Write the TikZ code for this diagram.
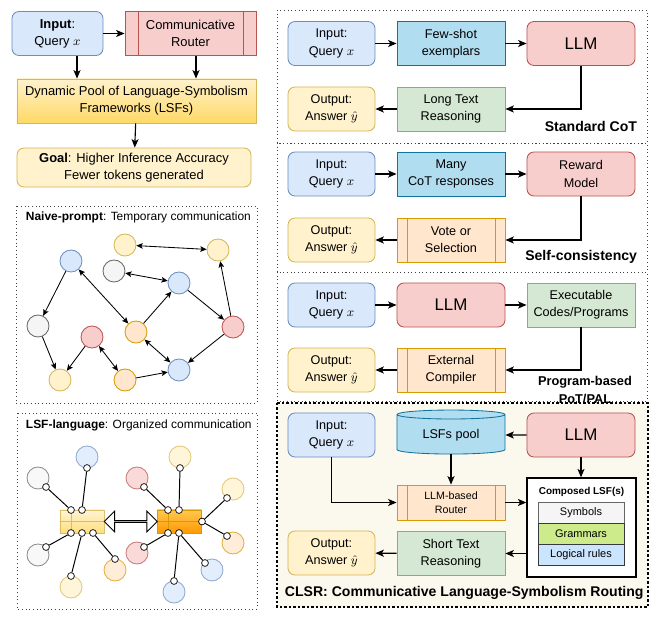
\documentclass[tikz,border=0pt]{standalone}
\usepackage{fontspec}
\setmainfont{Liberation Sans}
\usetikzlibrary{arrows.meta,shapes.geometric,shapes.arrows,calc}

\definecolor{blueF}{HTML}{DAE8FC}\definecolor{blueD}{HTML}{6C8EBF}
\definecolor{yelF}{HTML}{FFF2CC}\definecolor{yelD}{HTML}{D6B656}
\definecolor{redF}{HTML}{F8CECC}\definecolor{redD}{HTML}{B85450}
\definecolor{orF}{HTML}{FFE6CC}\definecolor{orD}{HTML}{D79B00}
\definecolor{greyF}{HTML}{F5F5F5}\definecolor{greyD}{HTML}{666666}
\definecolor{grnF}{HTML}{D5E8D4}\definecolor{grnD}{HTML}{82B366}
\definecolor{cyanF}{HTML}{B1DDF0}\definecolor{cyanD}{HTML}{10739E}
\definecolor{limeF}{HTML}{CDEB8B}\definecolor{slateD}{HTML}{36393D}
\definecolor{skyF}{HTML}{CCE5FF}
\definecolor{goldF}{HTML}{FFD966}
\definecolor{creamF}{HTML}{FBF8EE}

\tikzset{
  txt/.style={font=\fontsize{9}{12.2}\selectfont, align=center},
  box/.style={txt, draw, line width=0.6pt, minimum height=1.1cm, inner sep=1pt},
  bars/.style 2 args={path picture={\draw[#2, line width=0.6pt]
      ([xshift=#1]path picture bounding box.north west) -- ([xshift=#1]path picture bounding box.south west)
      ([xshift=-#1]path picture bounding box.north east) -- ([xshift=-#1]path picture bounding box.south east);}},
  qbox/.style={box, rounded corners=5pt, fill=blueF, draw=blueD, minimum width=2.175cm},
  abox/.style={box, rounded corners=5pt, fill=yelF, draw=yelD, minimum width=2.175cm},
  llmbox/.style={box, rounded corners=5pt, fill=redF, draw=redD, minimum width=2.7cm},
  bigllm/.style={llmbox, font=\fontsize{12}{14}\selectfont},
  cyanbox/.style={box, fill=cyanF, draw=cyanD, minimum width=2.7cm},
  grnbox/.style={box, fill=grnF, draw=grnD, minimum width=2.7cm},
  procbox/.style={box, fill=orF, draw=orD, minimum width=2.7cm, bars={0.25cm}{orD}},
  layer/.style={draw=slateD, line width=0.6pt, minimum width=2.15cm, minimum height=0.525cm,
    inner sep=0pt, font=\fontsize{7.8}{9}\selectfont},
  panel/.style={draw=black!75, line width=0.6pt, dotted},
  tag/.style={font=\fontsize{10}{12}\selectfont\bfseries, anchor=east},
  caption/.style={font=\fontsize{8.5}{10}\selectfont, anchor=west},
  arr/.style={-{Stealth[length=6pt,width=5pt,inset=1.5pt]}, line width=0.8pt},
  dot/.style={circle, minimum size=0.55cm, inner sep=0pt, line width=0.6pt},
  cb/.style={dot, fill=blueF, draw=blueD},
  cy/.style={dot, fill=yelF, draw=yelD},
  cg/.style={dot, fill=greyF, draw=greyD},
  cr/.style={dot, fill=redF, draw=redD},
  co/.style={dot, fill=orF, draw=orD},
  narr/.style={-{Stealth[length=4.5pt,width=4pt,inset=1pt]}, line width=0.6pt},
  nboth/.style={{Stealth[length=4.5pt,width=4pt,inset=1pt]}-{Stealth[length=4.5pt,width=4pt,inset=1pt]}, line width=0.6pt},
  port/.style={circle, draw, fill=white, minimum size=0.17cm, inner sep=0pt, line width=0.5pt},
  link/.style={line width=0.7pt},
  hub/.style={draw, line width=0.5pt, minimum width=1.1cm, minimum height=0.575cm, inner sep=0pt,
    path picture={\draw[#1, line width=0.4pt]
      (path picture bounding box.west) -- (path picture bounding box.east)
      ([xshift=0.275cm]path picture bounding box.north west) -- ([xshift=0.275cm]path picture bounding box.south west);}}
}

\begin{document}
\begin{tikzpicture}[x=0.025cm,y=-0.025cm]
\useasboundingbox (0,0) rectangle (660,623);

% overview
\node[qbox, minimum width=2.275cm, font=\fontsize{9.2}{12.2}\selectfont] (inp0) at (57.5,33.5) {\textbf{Input}:\\Query $x$};
\node[box, fill=redF, draw=redD, minimum width=3.275cm, bars={0.325cm}{redD}, font=\fontsize{9.2}{12.2}\selectfont] (rtr0) at (190.5,33.5) {Communicative\\Router};
\node[box, top color=yelF, bottom color=goldF, draw=yelD, minimum width=5.975cm, font=\fontsize{9.2}{12.2}\selectfont] (pool0) at (136.5,101) {Dynamic Pool of Language-Symbolism\\Frameworks (LSFs)};
\node[box, rounded corners=5pt, fill=yelF, draw=yelD, minimum width=5.85cm, minimum height=0.975cm, font=\fontsize{9.2}{12}\selectfont] (goal0) at (134,167.5) {\textbf{Goal}: Higher Inference Accuracy\\Fewer tokens generated};
\draw[arr] (inp0) -- (rtr0);
\draw[arr] (inp0.south -| 77,0) -- (pool0.north -| 77,0);
\draw[arr] (rtr0.south -| 196,0) -- (pool0.north -| 196,0);
\draw[arr] (pool0) -- (goal0);

% naive prompt
\draw[panel] (16,206) rectangle (257,403);
\node[caption] (ttl1) at (21,217) {\textbf{Naive-prompt}: Temporary communication};
\node[cy] (y1) at (125,245) {};
\node[cy] (y2) at (218,250) {};
\node[cb] (b1) at (71,261) {};
\node[cg] (g1) at (114,271) {};
\node[cb] (b2) at (179,283) {};
\node[cg] (g2) at (38,326) {};
\node[cr] (r1) at (233,327) {};
\node[co] (o1) at (136,332) {};
\node[cr] (r2) at (92,337) {};
\node[cb] (b3) at (179,370) {};
\node[cy] (y3) at (60,380) {};
\node[co] (o2) at (125,380) {};
\draw[nboth] (y1) -- (y2);
\draw[narr] (b1) -- (g2);
\draw[nboth] (b1) -- (o1);
\draw[nboth] (g1) -- (b2);
\draw[narr] (o1) -- (b2);
\draw[narr] (b2) -- (r1);
\draw[narr] (r1) -- (y2);
\draw[narr] (r1) -- (b3);
\draw[nboth] (o1) -- (b3);
\draw[narr] (g2) -- (y3);
\draw[narr] (r2) -- (y3);
\draw[nboth] (r2) -- (o2);
\draw[narr] (o2) -- (b3);

% LSF language
\draw[panel] (17,413) rectangle (257,609);
\node[caption] (ttl2) at (21,425) {\textbf{LSF-language}: Organized communication};
\node[hub=yelD, draw=yelD, top color=yelF, bottom color=goldF, opacity=0.85] (hubL) at (82,521.5) {};
\node[hub=orD, draw=orD, top color=goldF!80!orange, bottom color=orange!80!yellow] (hubR) at (179.5,521.5) {};
\node[double arrow, draw, fill=white, line width=0.6pt, minimum height=1.325cm, minimum width=0.52cm,
  double arrow head extend=0.12cm, inner sep=0pt] (swap) at ($(hubL.east)!0.5!(hubR.west)$) {};
\foreach \n/\x/\y in {lt1/71/510, lt2/82/510, lb1/71/533, lb2/82/533, lb3/93/533,
  rt1/168/510, rt2/179/510, re/202/521.5, rb1/168/533, rb2/179/533}
  \node[port] (\n) at (\x,\y) {};
\foreach \n/\s/\cx/\cy/\px/\py/\h in {
  a/cg/38/478/46/487/lt1, b/cb/87/457/87/468/lt2, c/cg/38/555/46/547/lb1,
  d/cy/71/587/71/576/lb2, e/co/115/570/115/559/lb3,
  f/cy/180/457/180/468/rt2, g/cr/137/478/144/487/rt1, h/cy/233/489/227/498/re,
  i/co/233/543/227/536/re, j/cr/137/553/144/547/rb1, k/cb/212/570/205/563/rb2,
  l/cb/174/592/174/581/rb2}{
  \node[\s, opacity=0.75] (sat\n) at (\cx,\cy) {};
  \node[port] (p\n) at (\px,\py) {};
  \draw[link] (p\n) -- (\h);
}

% standard CoT
\draw[panel] (277,10) rectangle (647,143);
\node[qbox] (inp1) at (331.5,43.5) {Input:\\Query $x$};
\node[cyanbox] (shot1) at (451,43.5) {Few-shot\\exemplars};
\node[bigllm] (llm1) at (581,43.5) {LLM};
\node[abox] (out1) at (331.5,109) {Output:\\Answer $\hat{y}$};
\node[grnbox] (long1) at (451,109) {Long Text\\Reasoning};
\node[tag] (tag1) at (642,126) {Standard CoT};
\draw[arr] (inp1) -- (shot1);
\draw[arr] (shot1) -- (llm1);
\draw[arr] (llm1) |- (long1);
\draw[arr] (long1) -- (out1);

% self-consistency
\draw[panel] (277,143) rectangle (647,272);
\node[qbox] (inp2) at (331.5,174) {Input:\\Query $x$};
\node[cyanbox] (many2) at (451,174) {Many\\CoT responses};
\node[llmbox] (rm2) at (581,174) {Reward\\Model};
\node[abox] (out2) at (331.5,240) {Output:\\Answer $\hat{y}$};
\node[procbox] (vote2) at (451,240) {Vote or\\Selection};
\node[tag] (tag2) at (642,257) {Self-consistency};
\draw[arr] (inp2) -- (many2);
\draw[arr] (many2) -- (rm2);
\draw[arr] (rm2) |- (vote2);
\draw[arr] (vote2) -- (out2);

% program based
\draw[panel] (277,272) rectangle (647,401);
\node[qbox] (inp3) at (331.5,305) {Input:\\Query $x$};
\node[bigllm] (llm3) at (451,305) {LLM};
\node[grnbox] (code3) at (581,305) {Executable\\Codes/Programs};
\node[abox] (out3) at (331.5,370) {Output:\\Answer $\hat{y}$};
\node[procbox] (comp3) at (451,370) {External\\Compiler};
\node[font=\fontsize{9.1}{12.6}\selectfont\bfseries, align=center] (tag3) at (585,390) {Program-based\\PoT/PAL};
\draw[arr] (inp3) -- (llm3);
\draw[arr] (llm3) -- (code3);
\draw[arr] (code3) |- (comp3);
\draw[arr] (comp3) -- (out3);

% CLSR
\draw[fill=creamF, line width=1.6pt, dash pattern=on 1.6pt off 1.6pt] (277,403) rectangle (648,607);
\node[qbox] (inp4) at (331.5,435) {Input:\\Query $x$};
\node[cylinder, shape border rotate=90, aspect=0.15, draw=cyanD, fill=cyanF, line width=0.6pt,
  minimum width=2.7cm, minimum height=1.1cm, txt, inner sep=1pt] (pool4) at (451,435) {LSFs pool};
\node[bigllm] (llm4) at (581,435) {LLM};
\node[procbox, minimum height=0.875cm, font=\fontsize{7.6}{10}\selectfont] (rtr4) at (451,502.5) {LLM-based\\Router};
\node[draw, fill=white, line width=0.9pt, minimum width=2.725cm, minimum height=2.475cm] (lsf4) at (581.5,527.5) {};
\node[font=\fontsize{7.1}{9}\selectfont\bfseries] (lsft) at (581.5,492) {Composed LSF(s)};
\node[layer, fill=greyF, draw=greyD] (sym4) at (581,512.5) {Symbols};
\node[layer, fill=limeF] (gram4) at (581,533.5) {Grammars};
\node[layer, fill=skyF] (rule4) at (581,555) {Logical rules};
\node[grnbox] (short4) at (451,553.5) {Short Text\\Reasoning};
\node[abox] (out4) at (331.5,553) {Output:\\Answer $\hat{y}$};
\node[caption, font=\fontsize{10}{12}\selectfont\bfseries] (tag4) at (280,593) {CLSR: Communicative Language-Symbolism Routing};
\draw[arr] (llm4) -- (pool4);
\draw[arr] (pool4) -- (rtr4);
\draw[arr] (inp4) |- (rtr4);
\draw[arr] (rtr4.east) -- (rtr4.east -| lsf4.west);
\draw[arr] (llm4.south) -- (llm4.south |- lsf4.north);
\draw[arr] (lsf4.west |- short4.east) -- (short4.east);
\draw[arr] (short4) -- (out4);
\end{tikzpicture}
\end{document}
